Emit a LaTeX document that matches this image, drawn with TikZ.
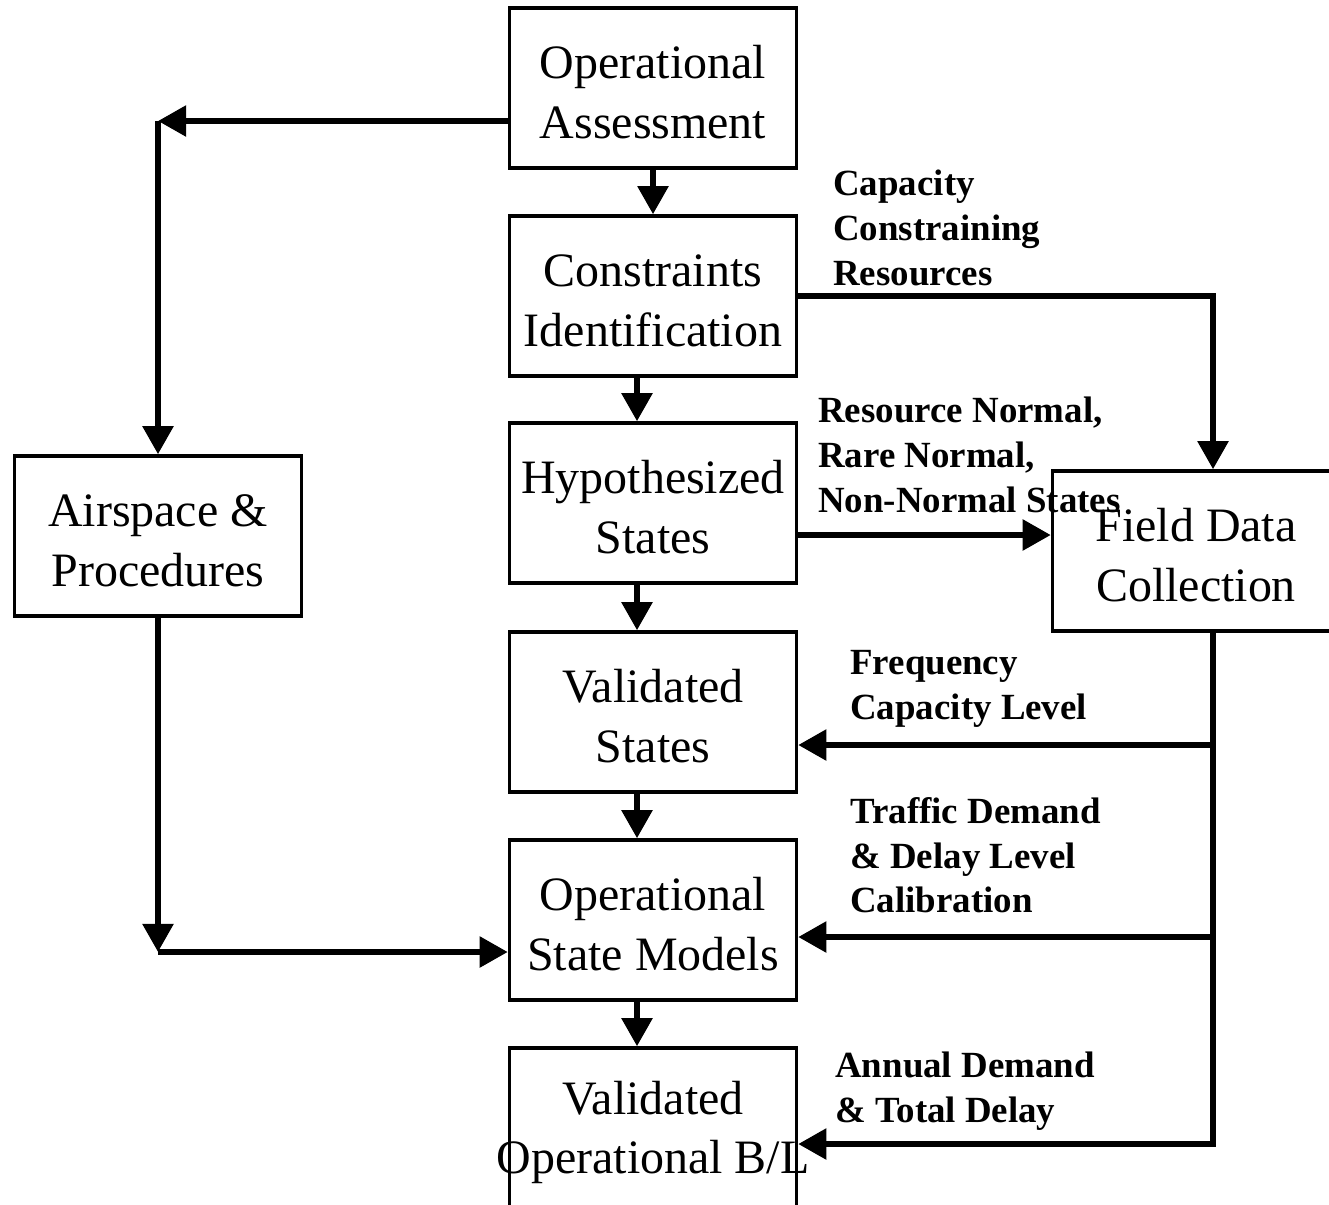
\documentclass[tikz,border=0pt]{standalone}
\usepackage{fontspec}
\setmainfont{Liberation Serif}
\usetikzlibrary{arrows.meta}

\tikzset{
  stage/.style={draw, line width=2pt, minimum width=5.74cm, minimum height=3.2cm,
    inner sep=0pt, text width=5.74cm, align=flush center, font=\fontsize{27.3}{34}\selectfont,
    execute at begin node=\rule{0pt}{0.84cm}},
  flow/.style={line width=3.4pt, -{Triangle[length=16pt,width=17pt]}},
  tag/.style={anchor=north west, inner sep=0pt, align=left,
    font=\fontsize{21}{25.5}\selectfont\bfseries}
}

\begin{document}
\begin{tikzpicture}[x=0.02cm, y=-0.02cm]
  \useasboundingbox (0,0) rectangle (1329,1204);
  \node[stage] (oa) at (653,88) {Operational\\Assessment};
  \node[stage] (ci) at (653,296) {Constraints\\Identification};
  \node[stage] (hs) at (653,503) {Hypothesized\\States};
  \node[stage] (vs) at (653,712) {Validated\\States};
  \node[stage] (osm) at (653,920) {Operational\\State Models};
  \node[stage] (vobl) at (653,1128) {Validated\\\makebox[0pt]{Operational B/L}};
  \node[stage] (asp) at (158,536) {Airspace \&\\Procedures};
  \node[stage] (fdc) at (1196,551) {Field Data\\Collection};

  \coordinate (spine) at (637,0);
  \coordinate (tl) at (158,121);
  \coordinate (bl) at (158,952);
  \coordinate (tr) at (1213,296);
  \coordinate (lane) at (0,535);
  \coordinate (rv) at (1213,745);
  \coordinate (ro) at (1213,937);
  \coordinate (br) at (1213,1144);

  \draw[flow] (oa.south) -- (ci.north);
  \draw[flow] (spine |- ci.south) -- (spine |- hs.north);
  \draw[flow] (spine |- hs.south) -- (spine |- vs.north);
  \draw[flow] (spine |- vs.south) -- (spine |- osm.north);
  \draw[flow] (spine |- osm.south) -- (spine |- vobl.north);

  \draw[flow] (oa.west |- tl) -- (tl);
  \draw[flow] (tl) -- (asp.north);
  \draw[flow] (asp.south) -- (bl);
  \draw[flow] (bl) -- (osm.west |- bl);

  \draw[flow] (ci.east) -- (tr) -- (tr |- fdc.north);
  \draw[flow] (hs.east |- lane) -- (fdc.west |- lane);
  \draw[flow] (fdc.south -| br) -- (br) -- (vobl.east |- br);
  \draw[flow] (rv) -- (vs.east |- rv);
  \draw[flow] (ro) -- (osm.east |- ro);

  \node[tag] (capl) at (833,170) {Capacity\\Constraining\\Resources};
  \node[tag] (statl) at (818,397) {Resource Normal,\\Rare Normal,\\Non-Normal States};
  \node[tag] (freql) at (850,650) {Frequency\\Capacity Level};
  \node[tag] (trafl) at (850,797) {Traffic Demand\\\& Delay Level\\Calibration};
  \node[tag] (annl) at (835,1052) {Annual Demand\\\& Total Delay};
\end{tikzpicture}
\end{document}
